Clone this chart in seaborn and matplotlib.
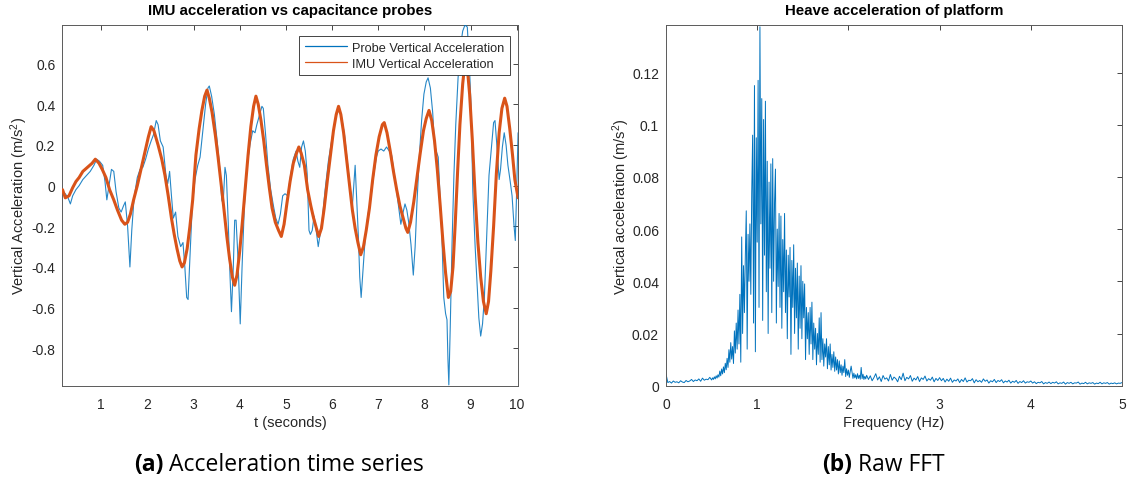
import numpy as np
import pandas as pd
import matplotlib
matplotlib.use("Agg")
import matplotlib.pyplot as plt
import seaborn as sns
from matplotlib.ticker import FuncFormatter
from matplotlib.offsetbox import TextArea, HPacker, AnnotationBbox

# ---------------- data ----------------
probe_t = [0.16, 0.22, 0.28, 0.33, 0.38, 0.45, 0.52, 0.60, 0.68, 0.76, 0.84, 0.90, 0.96, 1.03, 1.08,
           1.12, 1.16, 1.22, 1.27, 1.32, 1.38, 1.43, 1.48, 1.52, 1.57, 1.62, 1.66, 1.71, 1.78, 1.84,
           1.90, 1.96, 2.02, 2.08, 2.13, 2.19, 2.23, 2.28, 2.34, 2.40, 2.44, 2.48, 2.52, 2.56, 2.61,
           2.66, 2.72, 2.77, 2.81, 2.85, 2.88, 2.92, 2.97, 3.03, 3.09, 3.14, 3.20, 3.26, 3.31, 3.34,
           3.39, 3.45, 3.51, 3.56, 3.61, 3.64, 3.68, 3.71, 3.75, 3.79, 3.82, 3.86, 3.89, 3.92, 3.96,
           4.01, 4.05, 4.10, 4.16, 4.22, 4.28, 4.33, 4.37, 4.42, 4.48, 4.51, 4.56, 4.61, 4.67, 4.73,
           4.78, 4.83, 4.88, 4.93, 4.98, 5.04, 5.10, 5.16, 5.22, 5.26, 5.30, 5.34, 5.38, 5.42, 5.46,
           5.50, 5.53, 5.57, 5.61, 5.65, 5.70, 5.74, 5.79, 5.85, 5.92, 5.99, 6.05, 6.10, 6.16, 6.21,
           6.27, 6.33, 6.39, 6.44, 6.47, 6.50, 6.53, 6.57, 6.60, 6.63, 6.67, 6.72, 6.78, 6.84, 6.90,
           6.96, 7.00, 7.06, 7.12, 7.18, 7.24, 7.29, 7.34, 7.40, 7.45, 7.49, 7.53, 7.58, 7.62, 7.66,
           7.71, 7.76, 7.80, 7.84, 7.89, 7.94, 7.99, 8.04, 8.08, 8.13, 8.18, 8.22, 8.27, 8.30, 8.34,
           8.38, 8.42, 8.46, 8.49, 8.51, 8.53, 8.56, 8.60, 8.64, 8.68, 8.73, 8.78, 8.83, 8.88, 8.93,
           8.97, 9.01, 9.05, 9.10, 9.14, 9.18, 9.22, 9.26, 9.30, 9.35, 9.40, 9.45, 9.50, 9.53, 9.58,
           9.62, 9.65, 9.69, 9.73, 9.77, 9.81, 9.86, 9.90, 9.94, 9.97, 10.00, 10.03]
probe_acc = [-0.03, -0.04, -0.06, -0.09, -0.05, -0.02, 0.00, 0.03, 0.05, 0.07, 0.10, 0.13, 0.12, 0.10, 0.02,
             -0.07, -0.01, 0.08, 0.07, -0.03, -0.11, -0.13, -0.10, -0.08, -0.20, -0.40, -0.22, -0.06, 0.04, 0.08,
             0.09, 0.13, 0.18, 0.22, 0.25, 0.32, 0.30, 0.22, 0.19, 0.05, 0.01, 0.07, -0.05, -0.16, -0.13,
             -0.25, -0.30, -0.28, -0.40, -0.55, -0.56, -0.35, -0.10, 0.03, 0.10, 0.14, 0.27, 0.40, 0.48, 0.49,
             0.44, 0.35, 0.22, 0.10, -0.07, -0.09, 0.09, 0.05, -0.18, -0.45, -0.62, -0.40, -0.17, -0.17, -0.35,
             -0.68, -0.40, -0.10, 0.10, 0.20, 0.27, 0.26, 0.30, 0.34, 0.39, 0.38, 0.25, 0.10, -0.02, -0.10,
             -0.16, -0.19, -0.14, -0.05, -0.04, -0.05, 0.05, 0.13, 0.17, 0.12, 0.09, 0.19, 0.22, 0.17, 0.06,
             -0.22, -0.24, -0.22, -0.15, -0.21, -0.30, -0.24, -0.16, -0.02, 0.12, 0.22, 0.30, 0.35, 0.38, 0.33,
             0.25, 0.12, -0.01, -0.10, 0.00, 0.10, -0.05, -0.25, -0.45, -0.55, -0.42, -0.25, -0.14, -0.06, 0.05,
             0.14, 0.17, 0.18, 0.17, 0.19, 0.17, 0.15, 0.07, -0.03, -0.12, -0.19, -0.14, -0.09, -0.12, -0.18,
             -0.29, -0.44, -0.30, -0.08, 0.14, 0.32, 0.45, 0.51, 0.53, 0.48, 0.36, 0.20, 0.16, 0.14, -0.05,
             -0.25, -0.55, -0.63, -0.66, -0.85, -0.98, -0.70, -0.28, 0.05, 0.30, 0.53, 0.68, 0.76, 0.79, 0.78,
             0.62, 0.40, -0.03, -0.30, -0.47, -0.65, -0.74, -0.68, -0.55, -0.25, 0.05, 0.18, 0.31, 0.32, 0.17,
             0.03, 0.08, 0.19, 0.26, 0.20, 0.10, 0.02, -0.05, -0.19, -0.27, -0.02, 0.26]

imu_t = [0.16, 0.22, 0.30, 0.38, 0.45, 0.52, 0.60, 0.70, 0.80, 0.87, 0.95, 1.02, 1.10, 1.18, 1.27,
         1.35, 1.44, 1.51, 1.57, 1.63, 1.70, 1.78, 1.87, 1.95, 2.02, 2.08, 2.14, 2.23, 2.31, 2.38,
         2.45, 2.52, 2.58, 2.64, 2.70, 2.75, 2.80, 2.86, 2.92, 2.98, 3.05, 3.12, 3.18, 3.24, 3.29,
         3.34, 3.40, 3.47, 3.53, 3.59, 3.65, 3.72, 3.78, 3.84, 3.89, 3.94, 4.00, 4.06, 4.12, 4.18,
         4.24, 4.30, 4.35, 4.40, 4.46, 4.52, 4.58, 4.64, 4.70, 4.77, 4.84, 4.90, 4.96, 5.02, 5.09,
         5.16, 5.23, 5.28, 5.33, 5.40, 5.47, 5.54, 5.60, 5.66, 5.71, 5.77, 5.83, 5.90, 5.97, 6.03,
         6.09, 6.14, 6.19, 6.25, 6.31, 6.37, 6.44, 6.50, 6.56, 6.62, 6.68, 6.74, 6.81, 6.88, 6.95,
         7.02, 7.09, 7.13, 7.19, 7.26, 7.33, 7.40, 7.47, 7.54, 7.60, 7.64, 7.70, 7.77, 7.84, 7.91,
         7.98, 8.04, 8.10, 8.16, 8.22, 8.28, 8.34, 8.40, 8.46, 8.52, 8.57, 8.62, 8.67, 8.72, 8.77,
         8.83, 8.89, 8.93, 8.98, 9.04, 9.10, 9.16, 9.22, 9.28, 9.34, 9.39, 9.44, 9.50, 9.56, 9.62,
         9.68, 9.74, 9.79, 9.85, 9.91, 9.96, 10.03]
imu_acc = [-0.02, -0.06, -0.05, -0.01, 0.02, 0.04, 0.07, 0.09, 0.11, 0.13, 0.11, 0.08, 0.04, -0.02, -0.07,
           -0.12, -0.17, -0.19, -0.18, -0.14, -0.07, 0.00, 0.09, 0.17, 0.24, 0.29, 0.27, 0.20, 0.13, 0.05,
           -0.05, -0.16, -0.24, -0.31, -0.37, -0.40, -0.38, -0.31, -0.20, -0.07, 0.15, 0.28, 0.37, 0.44, 0.47,
           0.43, 0.36, 0.25, 0.14, 0.02, -0.10, -0.25, -0.36, -0.45, -0.49, -0.44, -0.32, -0.17, -0.01, 0.15,
           0.29, 0.39, 0.44, 0.40, 0.32, 0.22, 0.10, -0.01, -0.11, -0.18, -0.22, -0.25, -0.19, -0.09, 0.02,
           0.11, 0.16, 0.19, 0.16, 0.10, -0.02, -0.10, -0.16, -0.21, -0.25, -0.21, -0.11, 0.03, 0.16, 0.27,
           0.35, 0.39, 0.35, 0.26, 0.14, 0.02, -0.12, -0.21, -0.28, -0.34, -0.30, -0.22, -0.11, 0.03, 0.15,
           0.24, 0.30, 0.31, 0.26, 0.17, 0.07, -0.02, -0.10, -0.16, -0.21, -0.23, -0.18, -0.08, 0.04, 0.16,
           0.27, 0.33, 0.37, 0.32, 0.22, 0.08, -0.09, -0.27, -0.43, -0.55, -0.52, -0.40, -0.18, 0.07, 0.30,
           0.50, 0.63, 0.58, 0.45, 0.22, -0.05, -0.28, -0.45, -0.57, -0.63, -0.57, -0.42, -0.20, 0.06, 0.26,
           0.38, 0.43, 0.39, 0.28, 0.15, 0.03, -0.06]

# FFT magnitude (units of 1e-3 m/s^2), three frequency bands
fft_low = [4.5, 1.2, 1.6, 1.0, 1.8, 1.3, 1.5, 1.1, 1.9, 1.4, 1.2, 2.0, 1.5, 1.8, 2.4, 1.6, 2.2, 1.9,
           2.6, 1.7, 2.9, 2.1, 2.5, 2.3, 3.2]                      # 0.00 .. 0.48 Hz
fft_peak = [2.2, 3.0, 2.4, 3.4, 2.6, 3.8, 2.9, 4.2, 3.3, 5.6,        # 0.50 .. 0.59
            3.8, 6.4, 4.5, 7.2, 5.0, 8.6, 6.1, 10.5, 7.0, 13.8,      # 0.60 .. 0.69
            9.0, 16.5, 10.2, 15.0, 8.5, 21.0, 12.5, 24.0, 14.0, 29.0,  # 0.70 .. 0.79
            16.0, 35.0, 9.0, 57.0, 20.0, 46.0, 28.0, 50.0, 67.0, 14.0,  # 0.80 .. 0.89
            58.0, 40.0, 62.0, 35.0, 74.0, 96.0, 24.0, 115.0, 13.0, 95.0,  # 0.90 .. 0.99
            55.0, 117.0, 30.0, 137.5, 62.0, 110.0, 25.0, 102.0, 50.0, 109.0,  # 1.00 .. 1.09
            36.0, 86.0, 20.0, 78.0, 45.0, 85.0, 28.0, 87.0, 40.0, 70.0,  # 1.10 .. 1.19
            83.0, 24.0, 60.0, 38.0, 66.0, 30.0, 65.0, 22.0, 56.0, 36.0,  # 1.20 .. 1.29
            66.0, 28.0, 52.0, 18.0, 50.0, 34.0, 53.0, 12.0, 48.0, 30.0,  # 1.30 .. 1.39
            54.0, 20.0, 45.0, 26.0, 47.0, 14.0, 42.0, 22.0, 46.0, 18.0,  # 1.40 .. 1.49
            40.0, 26.0, 39.0, 10.0, 30.0, 18.0, 28.0, 12.0, 30.0, 16.0,  # 1.50 .. 1.59
            32.0, 10.0, 24.0, 14.0, 22.0, 8.0, 20.0, 12.0, 26.0, 9.0,    # 1.60 .. 1.69
            28.0, 10.0, 18.0, 7.5, 16.0, 11.0, 18.0, 6.5, 15.0, 8.0,     # 1.70 .. 1.79
            16.0, 6.0, 12.0, 7.0, 13.0, 5.5, 11.0, 6.0, 10.0, 4.5,       # 1.80 .. 1.89
            9.5, 5.0, 8.0, 4.0, 7.5, 5.0, 10.0, 3.5, 6.5, 4.0,           # 1.90 .. 1.99
            6.0, 3.2, 5.5, 7.5, 5.0, 2.8, 4.8, 3.0, 4.2, 2.6,            # 2.00 .. 2.09
            4.6, 2.8, 4.0, 2.5, 7.0, 2.7, 4.4, 2.4, 3.6, 2.6,            # 2.10 .. 2.19
            4.0]                                                       # 2.20
fft_mid = [2.4, 3.8, 1.9, 3.1, 4.6, 2.2, 3.4, 1.6, 3.9, 2.5, 3.0, 1.8, 4.3, 2.1, 3.3, 2.7, 1.5, 3.6,
           2.3, 4.8, 1.9, 3.2, 2.6, 3.9, 1.7, 2.9, 2.2, 3.5, 1.6, 3.0, 2.4, 3.7, 1.8, 2.7, 2.1, 3.3,
           1.5, 2.8, 2.0, 3.1,                                         # 2.22 .. 3.00
           1.9, 2.8, 1.4, 2.5, 1.7, 2.9, 1.3, 2.2, 1.8, 2.6, 1.2, 2.4, 1.6, 3.0, 1.4, 2.1, 1.9, 2.7,
           1.1, 2.3, 1.5, 2.0, 1.3, 2.6, 1.7, 2.2, 1.0, 1.9, 1.5, 2.4, 1.2, 2.0, 1.6, 2.3, 1.1, 1.8,
           1.4, 2.1, 1.0, 1.7, 1.3, 2.0, 0.9, 1.6, 1.2, 1.9, 1.0, 1.5, 1.3, 1.8,   # 3.02 .. 4.00
           1.0, 1.5, 0.8, 1.3, 1.1, 1.6, 0.7, 1.2, 0.9, 1.4, 0.8, 1.3, 1.0, 1.5, 0.7, 1.1, 0.9, 1.4,
           0.6, 1.2, 0.9, 1.3, 0.7, 1.1, 1.0, 1.4, 0.6, 1.0, 0.8, 1.3, 0.7, 1.1, 0.9, 1.2, 0.6, 1.0,
           0.8, 1.3, 0.7, 1.1, 0.9, 1.2, 0.6, 1.0, 0.8, 1.1, 0.7, 1.0, 0.9, 1.2]   # 4.02 .. 5.00

fft_freq = np.concatenate([
    np.linspace(0.0, 0.48, len(fft_low)),
    np.linspace(0.50, 2.20, len(fft_peak)),
    np.linspace(2.22, 5.00, len(fft_mid)),
])
fft_amp = np.array(fft_low + fft_peak + fft_mid) * 1e-3

left_xticks = [1, 2, 3, 4, 5, 6, 7, 8, 9, 10]
left_yticks = [-0.8, -0.6, -0.4, -0.2, 0, 0.2, 0.4, 0.6]
right_xticks = [0, 1, 2, 3, 4, 5]
right_yticks = [0, 0.02, 0.04, 0.06, 0.08, 0.1, 0.12]

# ---------------- styling ----------------
sns.set_theme(style="white")
plt.rcParams["font.family"] = ["Liberation Sans", "DejaVu Sans"]
plt.rcParams["mathtext.fontset"] = "custom"
plt.rcParams["mathtext.rm"] = "Liberation Sans"
plt.rcParams["mathtext.it"] = "Liberation Sans:italic"

BLUE = "#0072BD"
ORANGE = "#D95319"
AX_COL = "#262626"

fig = plt.figure(figsize=(11.27, 4.81), dpi=100)
W, H = 1127, 481
ax1 = fig.add_axes([62.3 / W, 1 - 386.7 / H, 456 / W, 360.7 / H])
ax2 = fig.add_axes([666 / W, 1 - 386.7 / H, 456 / W, 360.7 / H])

df_probe = pd.DataFrame({"t": probe_t, "a": probe_acc})
df_imu = pd.DataFrame({"t": imu_t, "a": imu_acc})
sns.lineplot(data=df_probe, x="t", y="a", ax=ax1, color=BLUE, lw=0.8, alpha=0.85,
             estimator=None, sort=False, label="Probe Vertical Acceleration", zorder=3)
sns.lineplot(data=df_imu, x="t", y="a", ax=ax1, color=ORANGE, lw=2.2,
             estimator=None, sort=False, label="IMU Vertical Acceleration", zorder=4)

df_fft = pd.DataFrame({"f": fft_freq, "amp": fft_amp})
sns.lineplot(data=df_fft, x="f", y="amp", ax=ax2, color=BLUE, lw=0.7,
             estimator=None, sort=False, legend=False)

fmt = FuncFormatter(lambda v, p: f"{v:g}")
for ax in (ax1, ax2):
    ax.tick_params(direction="in", top=True, right=True, length=3.5, width=0.6,
                   labelsize=10, colors=AX_COL)
    ax.tick_params(axis="x", pad=8)
    ax.tick_params(axis="y", pad=5)
    for s in ax.spines.values():
        s.set_color("#5a5a5a")
        s.set_linewidth(0.7)
    ax.yaxis.set_major_formatter(fmt)
    ax.xaxis.set_major_formatter(fmt)

ax1.set_xlim(0.155, 10.035)
ax1.set_ylim(-0.984, 0.79)
ax1.set_xticks(left_xticks)
ax1.set_yticks(left_yticks)
ax1.set_xlabel("t (seconds)", fontsize=10.5, color=AX_COL, labelpad=3)
ax1.set_ylabel("Vertical Acceleration (m/s$^2$)", fontsize=10.5, color=AX_COL, labelpad=1)
ax1.set_title("IMU acceleration vs capacitance probes", fontsize=10.8, fontweight="bold",
              color="black", pad=8)

ax2.set_xlim(0, 5)
ax2.set_ylim(0, 0.1382)
ax2.set_xticks(right_xticks)
ax2.set_yticks(right_yticks)
ax2.set_xlabel("Frequency (Hz)", fontsize=10.5, color=AX_COL, labelpad=3)
ax2.set_ylabel("Vertical acceleration (m/s$^2$)", fontsize=10.5, color=AX_COL, labelpad=0)
ax2.set_title("Heave acceleration of platform", fontsize=10.8, fontweight="bold",
              color="black", pad=8)

leg = ax1.legend(loc="upper right", bbox_to_anchor=(0.9818, 0.9695), borderaxespad=0,
                 fontsize=9.2, frameon=True, fancybox=False, framealpha=1,
                 edgecolor="#262626", handlelength=3.3, handletextpad=0.4,
                 borderpad=0.45, labelspacing=0.3)
leg.get_frame().set_linewidth(0.6)
for h in leg.get_lines():
    h.set_linewidth(0.9)
    h.set_alpha(1)

# captions
def caption(label, text, xc, yc):
    bold = TextArea(label, textprops=dict(fontsize=16.5, fontweight="bold",
                                          family=["Open Sans", "DejaVu Sans"], color="black"))
    reg = TextArea(" " + text, textprops=dict(fontsize=16.5,
                                               family=["Open Sans", "DejaVu Sans"], color="black"))
    box = HPacker(children=[bold, reg], align="baseline", pad=0, sep=0)
    ab = AnnotationBbox(box, (xc / W, 1 - yc / H), xycoords="figure fraction",
                        frameon=False, box_alignment=(0.5, 0.5))
    fig.add_artist(ab)

caption("(a)", "Acceleration time series", 279, 465)
caption("(b)", "Raw FFT", 883, 465)

fig.savefig("out.png", dpi=100, facecolor="white")
